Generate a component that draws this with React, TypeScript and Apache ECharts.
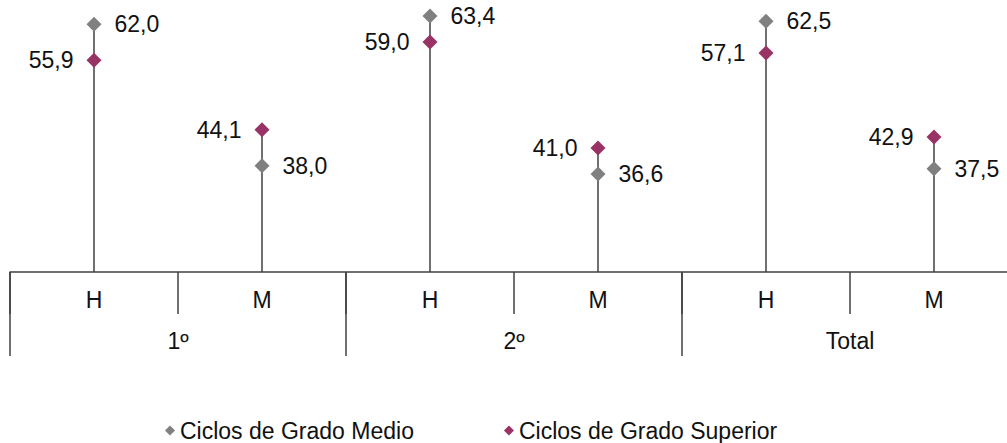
import React, { useEffect, useRef } from "react";
import * as echarts from "echarts";

const categories = ["H", "M", "H", "M", "H", "M"];
const groups = ["1º", "2º", "Total"];
const medio = [62.0, 38.0, 63.4, 36.6, 62.5, 37.5];
const superior = [55.9, 44.1, 59.0, 41.0, 57.1, 42.9];
const seriesNames = ["Ciclos de Grado Medio", "Ciclos de Grado Superior"];

const Y_MIN = 20;
const Y_MAX = 65;
const FONT = "'Liberation Sans', Arial, sans-serif";
const FS = 23;
const fmt = (v: number) => v.toFixed(1).replace(".", ",");

export default function App() {
  const ref = useRef<HTMLDivElement>(null);
  useEffect(() => {
    if (!ref.current) return;
    const chart = echarts.init(ref.current, undefined, { renderer: "svg" });
    const dropData = categories.map((_, i) => [i, medio[i], superior[i]]);
    chart.setOption({
      animation: false,
      textStyle: { fontFamily: FONT },
      grid: { left: 10, top: 6.5, width: 1008, bottom: 171, containLabel: false },
      legend: {
        data: seriesNames,
        left: 160,
        top: 414,
        icon: "diamond",
        itemWidth: 10,
        itemHeight: 10,
        itemGap: 90,
        textStyle: { fontSize: FS, color: "#111", fontFamily: FONT },
      },
      xAxis: [
        {
          type: "category",
          data: categories,
          position: "bottom",
          axisLine: { show: true, lineStyle: { color: "#404040", width: 1.5 } },
          axisTick: { show: true, interval: 0, length: 42, lineStyle: { color: "#404040", width: 1.5 } },
          axisLabel: { margin: 16, fontSize: FS, color: "#111", fontFamily: FONT, interval: 0 },
        },
        {
          type: "category",
          data: groups,
          position: "bottom",
          axisLine: { show: false },
          axisTick: { show: true, interval: 0, length: 84, lineStyle: { color: "#404040", width: 1.5 } },
          axisLabel: { margin: 57, fontSize: FS, color: "#111", fontFamily: FONT, interval: 0 },
        },
      ],
      yAxis: {
        type: "value",
        min: Y_MIN,
        max: Y_MAX,
        show: false,
        splitLine: { show: false },
      },
      series: [
        {
          type: "custom",
          name: "drop",
          z: 1,
          data: dropData,
          encode: { x: 0, y: [1, 2] },
          renderItem: (params: any, api: any) => {
            const top = Math.max(api.value(1), api.value(2));
            const p1 = api.coord([api.value(0), top]);
            const p0 = api.coord([api.value(0), Y_MIN]);
            return {
              type: "line",
              shape: { x1: p1[0], y1: p1[1], x2: p0[0], y2: p0[1] },
              style: { stroke: "#404040", lineWidth: 1.5 },
            };
          },
        },
        {
          type: "scatter",
          name: seriesNames[0],
          z: 3,
          symbol: "diamond",
          symbolSize: 15,
          itemStyle: { color: "#808080", opacity: 1 },
          data: medio,
          label: {
            show: true,
            position: "right",
            distance: 13,
            fontSize: FS,
            color: "#111",
            fontFamily: FONT,
            formatter: (p: any) => fmt(p.value),
          },
        },
        {
          type: "scatter",
          name: seriesNames[1],
          z: 3,
          symbol: "diamond",
          symbolSize: 15,
          itemStyle: { color: "#993366", opacity: 1 },
          data: superior,
          label: {
            show: true,
            position: "left",
            distance: 13,
            fontSize: FS,
            color: "#111",
            fontFamily: FONT,
            formatter: (p: any) => fmt(p.value),
          },
        },
      ],
    });
    return () => chart.dispose();
  }, []);
  return (
    <div
      ref={ref}
      style={{ position: "fixed", left: 0, top: 0, width: 1022, height: 443, background: "#fff" }}
    />
  );
}
